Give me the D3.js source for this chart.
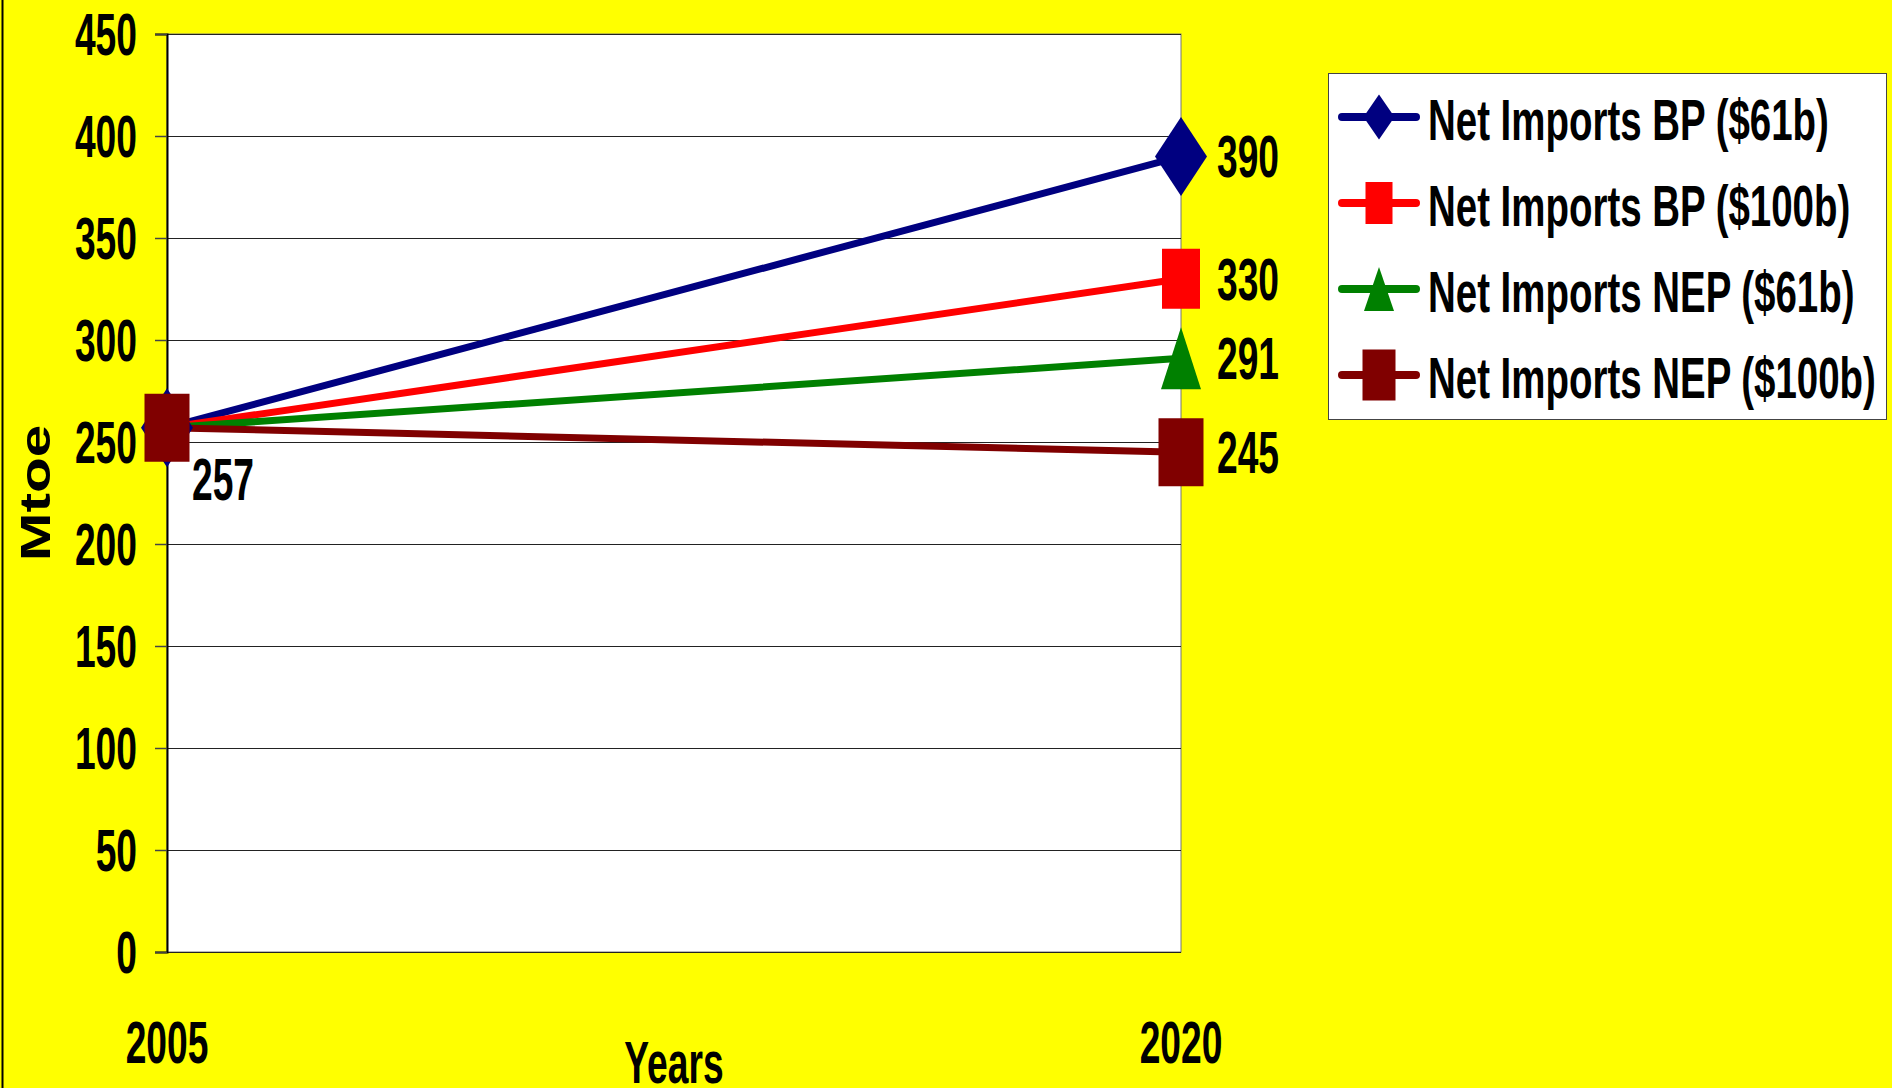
<!DOCTYPE html>
<html lang="en">
<head>
    <meta charset="utf-8">
    <title>Net Imports Mtoe 2005-2020</title>
    <script src="https://d3js.org/d3.v7.min.js"></script>
    <style>
        body {
            margin: 0;
            padding: 0;
            background-color: #ffff00;
            overflow: hidden;
        }
        svg text {
            font-family: 'Liberation Sans', Arial, sans-serif;
            font-weight: bold;
            fill: #000;
        }
    </style>
</head>
<body>
    <div id="chart"></div>

    <script>
        // Data
        var years = ["2005", "2020"];
        var seriesNames = ["Net Imports BP ($61b)", "Net Imports BP ($100b)", "Net Imports NEP ($61b)", "Net Imports NEP ($100b)"];
        var bp61 = [257, 390];
        var bp100 = [257, 330];
        var nep61 = [257, 291];
        var nep100 = [257, 245];
        var yTicks = [0, 50, 100, 150, 200, 250, 300, 350, 400, 450];

        var colors = ["#000080", "#ff0000", "#008000", "#800000"];
        var shapes = ["diamond", "rect", "triangle", "rect"];
        // marker sizes [w, h] in the plot and in the legend
        var plotSizes = [[52, 79], [38, 60], [40, 62], [45, 68]];
        var legendSizes = [[31, 45], [27, 42], [30, 44], [33, 51]];

        var series = [bp61, bp100, nep61, nep100].map(function(v, i) {
            return {name: seriesNames[i], values: v, color: colors[i], shape: shapes[i]};
        });

        var W = 1892, H = 1088;
        var margin = {top: 34, left: 167, right: 711, bottom: 136};
        var width = W - margin.left - margin.right,
            height = H - margin.top - margin.bottom;

        var svg = d3.select("#chart")
            .append("svg")
            .attr("width", W)
            .attr("height", H);

        svg.append("rect")
            .attr("width", W).attr("height", H)
            .attr("fill", "#ffff00");

        // thin border on the left edge
        svg.append("line")
            .attr("x1", 2.5).attr("x2", 2.5)
            .attr("y1", 0).attr("y2", H)
            .attr("stroke", "#000").attr("stroke-width", 2);

        var g = svg.append("g")
            .attr("transform", "translate(" + margin.left + "," + margin.top + ")");

        var x = d3.scalePoint().domain(years).range([0, width]);
        var y = d3.scaleLinear().domain([0, 450]).range([height, 0]);

        // plot background
        g.append("rect")
            .attr("width", width).attr("height", height)
            .attr("fill", "#fff")
            .attr("stroke", "#777").attr("stroke-width", 1);

        // gridlines
        g.append("g")
            .attr("class", "grid")
            .call(d3.axisLeft(y).tickValues(yTicks).tickSize(-width).tickFormat(""))
            .call(function(s) {
                s.select(".domain").remove();
                s.selectAll("line").attr("stroke", "#222").attr("stroke-width", 1.2);
            });

        // y axis with ticks pointing left
        var yAxis = g.append("g")
            .call(d3.axisLeft(y).tickValues(yTicks).tickSize(12).tickPadding(0).tickFormat(""));
        yAxis.select(".domain").attr("stroke", "#000").attr("stroke-width", 2);
        yAxis.selectAll("line").attr("stroke", "#444").attr("stroke-width", 1.5);

        // condensed text helper: scale x around the anchor point
        function ctext(parent, tx, ty, str, size, sx, anchor) {
            return parent.append("g")
                .attr("transform", "translate(" + tx + "," + ty + ") scale(" + sx + ",1)")
                .append("text")
                .attr("text-anchor", anchor)
                .style("font-size", size + "px")
                .text(str);
        }

        yTicks.forEach(function(t) {
            ctext(g, -30, y(t) + 21, t, 60, 0.62, "end");
        });

        years.forEach(function(yr) {
            ctext(g, x(yr), 1063 - margin.top, yr, 60, 0.62, "middle");
        });

        ctext(g, width / 2, 1083 - margin.top, "Years", 60, 0.62, "middle");

        // y axis title, wide font
        svg.append("g")
            .attr("transform", "translate(50,493) rotate(-90) scale(1.36,1)")
            .append("text")
            .attr("text-anchor", "middle")
            .style("font-size", "43px")
            .text("Mtoe");

        // lines
        var line = d3.line()
            .x(function(d, i) { return x(years[i]); })
            .y(function(d) { return y(d); });

        series.forEach(function(s) {
            g.append("path")
                .datum(s.values)
                .attr("fill", "none")
                .attr("stroke", s.color)
                .attr("stroke-width", 7)
                .attr("stroke-linecap", "round")
                .attr("d", line);
        });

        function markerPath(shape, w, h) {
            var hw = w / 2, hh = h / 2;
            if (shape === "diamond") return "M0," + (-hh) + "L" + hw + ",0L0," + hh + "L" + (-hw) + ",0Z";
            if (shape === "triangle") return "M0," + (-hh) + "L" + hw + "," + hh + "L" + (-hw) + "," + hh + "Z";
            return "M" + (-hw) + "," + (-hh) + "H" + hw + "V" + hh + "H" + (-hw) + "Z";
        }

        // markers
        series.forEach(function(s, i) {
            g.selectAll(".m" + i)
                .data(s.values)
                .enter()
                .append("path")
                .attr("transform", function(d, j) { return "translate(" + x(years[j]) + "," + y(d) + ")"; })
                .attr("d", markerPath(s.shape, plotSizes[i][0], plotSizes[i][1]))
                .attr("fill", s.color);
        });

        // data labels
        ctext(g, x(years[0]) + 25, y(nep100[0]) + 72, nep100[0], 60, 0.62, "start");
        series.forEach(function(s) {
            var v = s.values[1];
            ctext(g, x(years[1]) + 36, y(v) + 21, v, 60, 0.62, "start");
        });

        // legend
        var legend = svg.append("g").attr("transform", "translate(1328,73)");
        legend.append("rect")
            .attr("x", 0.5).attr("y", 0.5)
            .attr("width", 558).attr("height", 346)
            .attr("fill", "#fff")
            .attr("stroke", "#444").attr("stroke-width", 1);

        series.forEach(function(s, i) {
            var ly = 44 + i * 86;
            var row = legend.append("g").attr("transform", "translate(0," + ly + ")");
            row.append("line")
                .attr("x1", 14).attr("x2", 88)
                .attr("stroke", s.color)
                .attr("stroke-width", 8)
                .attr("stroke-linecap", "round");
            row.append("path")
                .attr("transform", "translate(51,0)")
                .attr("d", markerPath(s.shape, legendSizes[i][0], legendSizes[i][1]))
                .attr("fill", s.color);
            ctext(row, 100, 23, s.name, 58, 0.663, "start");
        });
    </script>
</body>
</html>
